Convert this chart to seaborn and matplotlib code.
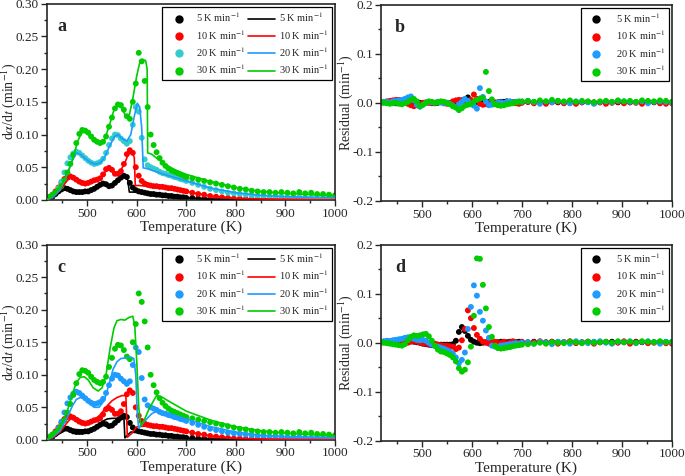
import numpy as np
import pandas as pd
import seaborn as sns
import matplotlib.pyplot as plt
from matplotlib.lines import Line2D
from matplotlib.ticker import MultipleLocator, FormatStrFormatter

# heating rates
rates = ['5', '10', '20', '30']
rate_labels = ['5 K min$^{-1}$', '10 K min$^{-1}$', '20 K min$^{-1}$', '30 K min$^{-1}$']

# temperature grid of the experimental points (K)
temps = [418, 424, 430, 436, 442, 448, 454, 460, 466, 472, 478, 484,
         490, 496, 502, 508, 514, 520, 526, 532, 538, 544, 550, 556,
         562, 568, 574, 580, 586, 592, 598, 604, 610, 616, 622, 628,
         634, 640, 646, 652, 658, 664, 670, 676, 682, 688, 694, 700,
         712, 724, 736, 748, 760, 772, 784, 796, 808, 820, 832, 844,
         856, 868, 880, 892, 904, 916, 928, 940, 952, 964, 976, 988, 1000]

# experimental da/dt (min^-1)
exp_5 = [0.000, 0.002, 0.005, 0.009, 0.013, 0.016, 0.018, 0.017, 0.015, 0.013, 0.012, 0.012,
         0.012, 0.013, 0.013, 0.015, 0.017, 0.020, 0.023, 0.025, 0.024, 0.021, 0.022, 0.026,
         0.030, 0.034, 0.037, 0.035, 0.026, 0.019, 0.015, 0.013, 0.012, 0.011, 0.010, 0.009,
         0.009, 0.008, 0.008, 0.007, 0.007, 0.006, 0.006, 0.005, 0.005, 0.004, 0.004, 0.003,
         0.003, 0.002, 0.002, 0.001, 0.001, 0.001, 0.001, 0.000, 0.000, 0.000, 0.000, 0.000,
         0.000, 0.000, 0.000, 0.000, 0.000, 0.000, 0.000, 0.000, 0.000, 0.000, 0.000, 0.000, 0.000]
exp_10 = [0.001, 0.004, 0.008, 0.013, 0.019, 0.026, 0.032, 0.035, 0.036, 0.034, 0.031, 0.028,
          0.026, 0.025, 0.026, 0.028, 0.030, 0.031, 0.033, 0.039, 0.047, 0.049, 0.046, 0.040,
          0.040, 0.044, 0.055, 0.070, 0.076, 0.072, 0.050, 0.037, 0.029, 0.025, 0.023, 0.022,
          0.021, 0.021, 0.020, 0.020, 0.019, 0.018, 0.018, 0.017, 0.016, 0.015, 0.014, 0.013,
          0.011, 0.009, 0.008, 0.006, 0.005, 0.004, 0.003, 0.002, 0.002, 0.001, 0.001, 0.001,
          0.001, 0.001, 0.001, 0.001, 0.001, 0.001, 0.001, 0.001, 0.001, 0.001, 0.001, 0.001, 0.001]
exp_20 = [0.002, 0.004, 0.007, 0.011, 0.018, 0.028, 0.042, 0.056, 0.065, 0.071, 0.074, 0.072,
          0.068, 0.064, 0.060, 0.057, 0.055, 0.056, 0.058, 0.063, 0.072, 0.084, 0.094, 0.100,
          0.099, 0.094, 0.090, 0.086, 0.090, 0.115, 0.142, 0.135, 0.095, 0.062, 0.053, 0.050,
          0.048, 0.046, 0.043, 0.041, 0.040, 0.038, 0.037, 0.035, 0.034, 0.032, 0.031, 0.029,
          0.026, 0.023, 0.020, 0.017, 0.015, 0.013, 0.011, 0.010, 0.009, 0.008, 0.007, 0.006,
          0.006, 0.005, 0.005, 0.005, 0.004, 0.004, 0.004, 0.003, 0.003, 0.003, 0.003, 0.003, 0.003]
exp_30 = [0.003, 0.005, 0.008, 0.011, 0.015, 0.021, 0.030, 0.042, 0.055, 0.069, 0.087, 0.101,
          0.107, 0.106, 0.103, 0.097, 0.092, 0.089, 0.087, 0.089, 0.097, 0.112, 0.126, 0.140,
          0.146, 0.145, 0.138, 0.128, 0.124, 0.150, 0.178, 0.225, 0.212, 0.182, 0.142, 0.100,
          0.084, 0.073, 0.064, 0.057, 0.052, 0.048, 0.045, 0.043, 0.041, 0.039, 0.037, 0.035,
          0.033, 0.031, 0.029, 0.027, 0.025, 0.023, 0.021, 0.019, 0.017, 0.016, 0.014, 0.013,
          0.012, 0.012, 0.011, 0.012, 0.011, 0.010, 0.012, 0.010, 0.011, 0.009, 0.009, 0.008, 0.007]

# model curves, panel a
fa_T_5 = [418, 430, 445, 455, 465, 480, 500, 515, 530, 540, 550, 560, 570, 577, 582, 585, 595, 620, 660, 700, 750, 800, 1000]
fa_5 = [0.0, 0.004, 0.012, 0.017, 0.015, 0.012, 0.013, 0.017, 0.024, 0.022, 0.022, 0.028, 0.034, 0.036, 0.030, 0.012,
        0.012, 0.010, 0.007, 0.003, 0.001, 0.0, 0.0]
fa_T_10 = [418, 430, 445, 460, 470, 480, 495, 510, 525, 535, 545, 555, 565, 575, 583, 590, 595, 597, 605, 620, 650, 700,
           750, 800, 900, 1000]
fa_10 = [0.0, 0.004, 0.015, 0.030, 0.035, 0.031, 0.026, 0.028, 0.032, 0.042, 0.048, 0.042, 0.042, 0.055, 0.070, 0.074,
         0.065, 0.022, 0.022, 0.021, 0.019, 0.013, 0.006, 0.002, 0.001, 0.0]
fa_T_20 = [418, 430, 445, 460, 470, 478, 486, 495, 505, 515, 525, 535, 545, 555, 562, 570, 580, 588, 595, 601, 606, 610,
           613, 620, 640, 660, 700, 750, 800, 850, 900, 1000]
fa_20 = [0.0, 0.004, 0.015, 0.040, 0.060, 0.072, 0.070, 0.064, 0.058, 0.055, 0.056, 0.065, 0.082, 0.097, 0.100, 0.094,
         0.090, 0.100, 0.128, 0.148, 0.142, 0.110, 0.049, 0.048, 0.043, 0.038, 0.029, 0.018, 0.011, 0.007, 0.005, 0.003]
fa_T_30 = [418, 430, 445, 460, 472, 480, 488, 495, 505, 515, 525, 535, 545, 555, 562, 570, 578, 585, 592, 600, 606, 612,
           618, 621, 622, 630, 640, 660, 680, 700, 750, 800, 850, 900, 950, 1000]
fa_30 = [0.0, 0.006, 0.018, 0.040, 0.065, 0.088, 0.102, 0.104, 0.098, 0.091, 0.088, 0.092, 0.115, 0.140, 0.145, 0.140,
         0.128, 0.130, 0.155, 0.190, 0.210, 0.215, 0.213, 0.200, 0.072, 0.070, 0.064, 0.053, 0.045, 0.039, 0.028, 0.019,
         0.013, 0.010, 0.008, 0.006]

# model curves, panel c
fc_T_5 = [418, 430, 445, 460, 475, 490, 505, 520, 530, 540, 550, 560, 568, 574, 576, 588, 600, 620, 650, 700, 750, 800, 1000]
fc_5 = [0.0, 0.003, 0.010, 0.016, 0.016, 0.015, 0.016, 0.022, 0.028, 0.032, 0.033, 0.033, 0.035, 0.036, 0.003, 0.012,
        0.011, 0.009, 0.006, 0.002, 0.001, 0.0, 0.0]
fc_T_10 = [418, 430, 445, 460, 470, 480, 492, 504, 516, 528, 540, 550, 560, 570, 578, 581, 590, 600, 615, 630, 650, 700,
           750, 800, 900, 1000]
fc_10 = [0.0, 0.003, 0.012, 0.027, 0.035, 0.033, 0.028, 0.027, 0.031, 0.040, 0.052, 0.060, 0.065, 0.068, 0.068, 0.004,
         0.010, 0.020, 0.021, 0.022, 0.020, 0.013, 0.006, 0.002, 0.0005, 0.0]
fc_T_20 = [418, 430, 445, 460, 470, 478, 486, 494, 504, 514, 524, 534, 544, 552, 560, 568, 578, 588, 594, 598, 601, 604,
           615, 630, 642, 660, 700, 750, 800, 850, 900, 1000]
fc_20 = [0.0, 0.004, 0.014, 0.035, 0.052, 0.062, 0.065, 0.063, 0.056, 0.050, 0.050, 0.060, 0.085, 0.108, 0.120, 0.125,
         0.126, 0.127, 0.125, 0.100, 0.040, 0.018, 0.028, 0.040, 0.045, 0.042, 0.032, 0.020, 0.012, 0.007, 0.005, 0.003]
fc_T_30 = [418, 430, 445, 460, 470, 478, 486, 494, 502, 512, 522, 530, 538, 546, 554, 560, 568, 576, 584, 592, 596, 600,
           604, 608, 615, 625, 640, 650, 670, 700, 750, 800, 850, 900, 950, 1000]
fc_30 = [0.0, 0.005, 0.018, 0.045, 0.070, 0.088, 0.096, 0.097, 0.092, 0.080, 0.075, 0.080, 0.100, 0.140, 0.172, 0.183,
         0.185, 0.184, 0.188, 0.190, 0.175, 0.120, 0.050, 0.022, 0.030, 0.048, 0.068, 0.066, 0.057, 0.044, 0.030, 0.020,
         0.014, 0.010, 0.008, 0.006]

# residuals, panel b
res_b_5 = [0.000, 0.001, 0.002, 0.001, 0.000, -0.001, 0.001, 0.002, 0.001, 0.000, -0.001, 0.000,
           0.001, 0.000, -0.001, 0.000, 0.001, 0.000, -0.001, 0.000, 0.002, 0.001, 0.000, -0.001,
           0.000, 0.002, 0.003, 0.005, 0.007, 0.011, 0.004, 0.002, 0.001, 0.000, 0.000, 0.001,
           0.002, 0.001, 0.000, 0.001, 0.002, 0.002, 0.003, 0.002, 0.001, 0.002, 0.002, 0.001,
           0.002, 0.001, 0.002, 0.001, 0.002, 0.001, 0.001, 0.002, 0.001, 0.001, 0.002, 0.001,
           0.001, 0.002, 0.001, 0.001, 0.002, 0.001, 0.001, 0.001, 0.002, 0.001, 0.001, 0.001, 0.001]
res_b_10 = [0.001, 0.002, 0.003, 0.004, 0.005, 0.006, 0.006, 0.004, 0.002, -0.002, -0.005, -0.007,
            -0.005, -0.002, 0.000, 0.001, 0.000, -0.001, 0.000, 0.002, 0.001, -0.001, -0.002, -0.001,
            0.003, 0.005, 0.006, 0.004, 0.002, -0.002, 0.006, 0.017, 0.008, -0.002, -0.004, -0.003,
            -0.002, 0.000, 0.001, -0.001, -0.002, -0.001, 0.000, 0.002, 0.001, -0.001, -0.002, 0.000,
            0.002, -0.001, 0.001, -0.002, 0.001, 0.002, -0.001, 0.000, -0.002, 0.001, 0.002, -0.001,
            0.001, -0.002, 0.000, 0.002, -0.001, 0.001, 0.000, -0.002, 0.001, 0.002, -0.001, -0.002, -0.001]
res_b_20 = [0.001, 0.002, 0.002, 0.001, 0.003, 0.004, 0.005, 0.006, 0.008, 0.011, 0.013, 0.005,
            -0.004, -0.008, -0.004, 0.000, 0.002, 0.001, 0.000, 0.002, 0.001, -0.001, 0.000, -0.002,
            -0.006, -0.008, -0.003, 0.002, 0.008, 0.004, -0.003, -0.006, -0.012, 0.030, 0.012, 0.003,
            -0.005, -0.004, -0.002, 0.000, 0.001, -0.001, 0.002, 0.003, 0.001, 0.002, 0.003, 0.002,
            0.004, 0.002, -0.002, 0.003, 0.001, 0.004, 0.002, -0.001, 0.003, 0.002, 0.001, -0.002,
            0.002, 0.003, 0.001, 0.004, 0.003, 0.002, 0.001, 0.003, -0.001, 0.002, 0.003, 0.002, 0.001]
res_b_30 = [0.001, 0.000, -0.001, -0.002, -0.001, 0.000, -0.002, -0.003, -0.001, 0.002, 0.006, 0.008,
            0.003, -0.007, -0.004, 0.000, 0.003, 0.002, 0.000, 0.001, 0.003, 0.002, 0.000, -0.003,
            -0.007, -0.010, -0.015, -0.011, -0.006, -0.004, -0.002, 0.002, 0.006, 0.009, 0.010, 0.063,
            0.024, 0.007, -0.003, -0.005, -0.006, -0.005, -0.003, -0.002, -0.001, 0.001, 0.002, 0.003,
            0.004, 0.002, 0.005, 0.003, 0.006, 0.004, 0.003, 0.005, 0.002, 0.004, 0.003, 0.001,
            0.003, 0.004, 0.002, 0.005, 0.003, 0.004, 0.002, 0.005, 0.004, 0.003, 0.005, 0.004, 0.002]

# residuals, panel d
res_d_5 = [0.000, 0.001, 0.001, 0.000, 0.001, 0.001, 0.002, 0.002, 0.002, 0.002, 0.003, 0.002,
           0.001, 0.000, -0.002, -0.003, -0.004, -0.005, -0.005, -0.004, -0.004, -0.004, -0.004, -0.004,
           -0.003, 0.004, 0.022, 0.032, 0.024, 0.014, 0.006, 0.002, 0.000, -0.001, 0.000, 0.001,
           0.001, 0.000, 0.001, 0.001, 0.002, 0.001, 0.001, 0.002, 0.001, 0.001, 0.002, 0.001,
           0.001, 0.002, 0.001, 0.001, 0.002, 0.001, 0.001, 0.002, 0.001, 0.001, 0.002, 0.001,
           0.001, 0.001, 0.002, 0.001, 0.001, 0.001, 0.002, 0.001, 0.001, 0.001, 0.001, 0.001, 0.001]
res_d_10 = [0.002, 0.002, 0.003, 0.003, 0.004, 0.005, 0.006, 0.005, 0.003, 0.000, 0.002, 0.004,
            0.002, 0.000, -0.001, -0.002, -0.003, -0.002, -0.002, -0.004, -0.005, -0.006, -0.006, -0.007,
            -0.008, -0.013, -0.010, 0.005, 0.028, 0.066, 0.050, 0.030, 0.016, 0.008, 0.002, 0.000,
            -0.002, 0.001, 0.002, -0.001, 0.000, 0.002, -0.002, 0.001, 0.003, -0.001, 0.000, 0.002,
            -0.002, 0.001, 0.003, -0.001, 0.002, -0.002, 0.001, 0.003, -0.001, 0.000, 0.002, -0.002,
            0.001, 0.002, -0.001, 0.000, 0.003, -0.002, 0.001, 0.002, -0.001, 0.000, 0.002, -0.001, -0.002]
res_d_20 = [0.002, 0.003, 0.004, 0.003, 0.005, 0.006, 0.007, 0.008, 0.010, 0.011, 0.010, 0.008,
            0.006, 0.005, 0.006, 0.004, 0.000, -0.004, -0.007, -0.008, -0.010, -0.012, -0.015, -0.018,
            -0.022, -0.030, -0.042, -0.035, -0.020, 0.028, 0.073, 0.117, 0.096, 0.063, 0.045, 0.025,
            0.010, -0.006, -0.008, -0.008, -0.006, -0.005, -0.004, -0.003, -0.002, -0.001, -0.002, 0.000,
            0.001, -0.002, 0.002, 0.000, -0.003, 0.002, 0.001, -0.002, 0.003, 0.001, -0.001, 0.002,
            0.003, 0.000, -0.002, 0.002, 0.001, 0.003, -0.001, 0.002, 0.003, 0.001, -0.002, 0.002, 0.001]
res_d_30 = [0.001, 0.000, -0.001, -0.002, -0.003, -0.004, -0.005, -0.006, -0.003, 0.005, 0.012, 0.015,
            0.014, 0.015, 0.017, 0.018, 0.013, 0.004, -0.006, -0.014, -0.018, -0.019, -0.022, -0.025,
            -0.030, -0.038, -0.052, -0.059, -0.055, -0.040, -0.008, 0.055, 0.172, 0.171, 0.118, 0.070,
            0.032, 0.012, -0.006, -0.011, -0.012, -0.011, -0.010, -0.009, -0.007, -0.006, -0.005, -0.004,
            -0.003, -0.002, 0.000, -0.002, 0.001, 0.000, -0.001, 0.002, 0.001, -0.001, 0.002, 0.000,
            0.001, 0.002, 0.000, 0.003, 0.001, 0.002, 0.000, 0.003, 0.002, 0.001, 0.003, 0.001, 0.002]

sns.set_style('ticks')
plt.rcParams['font.family'] = ['Liberation Serif', 'DejaVu Serif']
plt.rcParams['mathtext.fontset'] = 'stix'
plt.rcParams['axes.linewidth'] = 1.2

BLACK, RED, GREEN = '#000000', '#FF0000', '#00CC00'
CYAN, BLUE = '#33CCCC', '#1E9BFF'


def long_table(ys):
    rows = []
    for r, y in zip(rates, ys):
        rows.append(pd.DataFrame({'T': temps, 'v': y, 'rate': r}))
    return pd.concat(rows, ignore_index=True)


exp_df = long_table([exp_5, exp_10, exp_20, exp_30])
res_b_df = long_table([res_b_5, res_b_10, res_b_20, res_b_30])
res_d_df = long_table([res_d_5, res_d_10, res_d_20, res_d_30])


def fit_table(Ts, ys):
    rows = []
    for r, t, y in zip(rates, Ts, ys):
        rows.append(pd.DataFrame({'T': t, 'v': y, 'rate': r}))
    return pd.concat(rows, ignore_index=True)


fit_a_df = fit_table([fa_T_5, fa_T_10, fa_T_20, fa_T_30], [fa_5, fa_10, fa_20, fa_30])
fit_c_df = fit_table([fc_T_5, fc_T_10, fc_T_20, fc_T_30], [fc_5, fc_10, fc_20, fc_30])


def style_axis(ax, ylim, major, minor, fmt, ylabel, letter, lx, ylab_x):
    ax.set_xlim(418, 1000)
    ax.set_ylim(*ylim)
    ax.xaxis.set_major_locator(MultipleLocator(100))
    ax.xaxis.set_minor_locator(MultipleLocator(50))
    ax.yaxis.set_major_locator(MultipleLocator(major))
    ax.yaxis.set_minor_locator(MultipleLocator(minor))
    ax.yaxis.set_major_formatter(FormatStrFormatter(fmt))
    ax.tick_params(which='both', direction='out', width=1.0, labelsize=9.5, pad=1.5)
    ax.tick_params(which='major', length=4)
    ax.tick_params(which='minor', length=2.5)
    for s in ax.spines.values():
        s.set_visible(True)
        s.set_linewidth(1.2)
    ax.set_xlabel('Temperature (K)', fontsize=11)
    ax.xaxis.set_label_coords(0.5, -0.105)
    ax.set_ylabel(ylabel, fontsize=10)
    ax.yaxis.set_label_coords(ylab_x, 0.5)
    ax.text(lx, 0.885, letter, transform=ax.transAxes, fontsize=13, fontweight='bold',
            ha='center', va='center')


def fit_panel(ax, fit_df, dot_colors, line_colors, letter):
    for r, c in zip(rates, dot_colors):
        sns.scatterplot(data=exp_df[exp_df['rate'] == r], x='T', y='v', color=c, s=18,
                        edgecolor='none', linewidth=0, ax=ax, legend=False, zorder=2)
    for r, c in zip(rates, line_colors):
        sns.lineplot(data=fit_df[fit_df['rate'] == r], x='T', y='v', color=c, lw=1.2,
                     estimator=None, sort=False, ax=ax, legend=False, zorder=3)
    style_axis(ax, (0, 0.30), 0.05, 0.025, '%.2f', r'd$\alpha$/d$t$ (min$^{-1}$)', letter, 0.052, -0.1)
    handles = [Line2D([], [], marker='o', ls='none', color=c, markersize=5) for c in dot_colors]
    handles += [Line2D([], [], color=c, lw=1.2) for c in line_colors]
    ax.legend(handles, rate_labels + rate_labels, ncol=2, loc='upper right', fontsize=7.5,
              frameon=True, fancybox=False, edgecolor='black', framealpha=1,
              handlelength=2.6, handletextpad=0.4, columnspacing=0.2, labelspacing=0.36,
              borderpad=0.35, borderaxespad=0.3).get_frame().set_linewidth(0.9)


def res_panel(ax, df, colors, letter):
    for r, c in zip(rates, colors):
        sns.scatterplot(data=df[df['rate'] == r], x='T', y='v', color=c, s=18,
                        edgecolor='none', linewidth=0, ax=ax, legend=False)
    style_axis(ax, (-0.2, 0.2), 0.1, 0.05, '%.1f', 'Residual (min$^{-1}$)', letter, 0.066, -0.09)
    handles = [Line2D([], [], marker='o', ls='none', color=c, markersize=5) for c in colors]
    ax.legend(handles, rate_labels, loc='upper right', fontsize=7.5,
              frameon=True, fancybox=False, edgecolor='black', framealpha=1,
              handlelength=2.2, handletextpad=0.8, labelspacing=0.36,
              borderpad=0.35, borderaxespad=0.3).get_frame().set_linewidth(0.9)


fig = plt.figure(figsize=(6.85, 4.76), dpi=100)
ax_a = fig.add_axes([0.068, 0.580, 0.421, 0.412])
ax_b = fig.add_axes([0.556, 0.578, 0.425, 0.412])
ax_c = fig.add_axes([0.068, 0.076, 0.421, 0.410])
ax_d = fig.add_axes([0.556, 0.074, 0.425, 0.412])

fit_panel(ax_a, fit_a_df, [BLACK, RED, CYAN, GREEN], [BLACK, RED, BLUE, GREEN], 'a')
res_panel(ax_b, res_b_df, [BLACK, RED, BLUE, GREEN], 'b')
fit_panel(ax_c, fit_c_df, [BLACK, RED, BLUE, GREEN], [BLACK, RED, BLUE, GREEN], 'c')
res_panel(ax_d, res_d_df, [BLACK, RED, BLUE, GREEN], 'd')

fig.savefig('out.png', dpi=100)
